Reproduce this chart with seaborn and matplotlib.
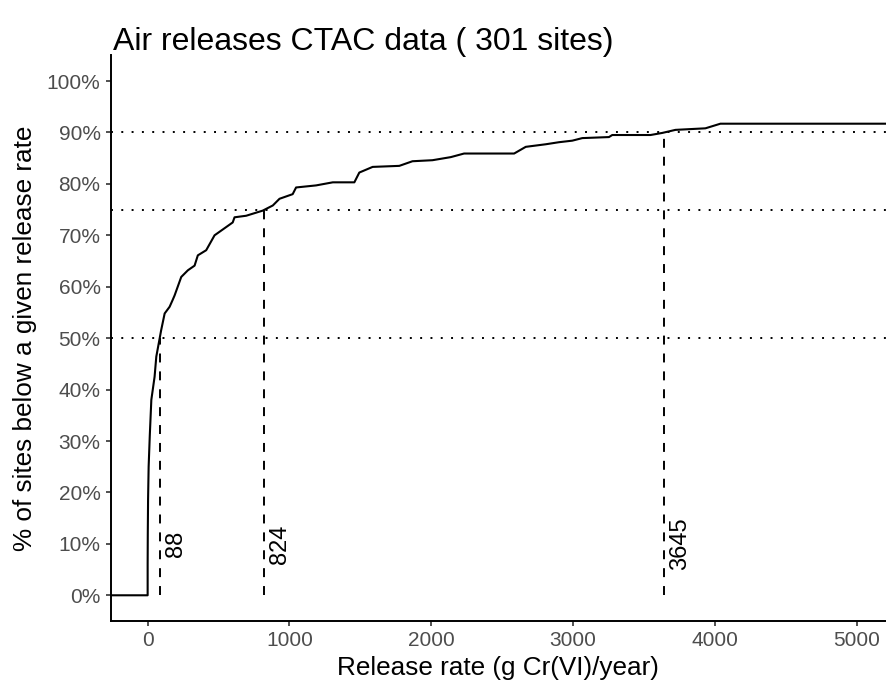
import numpy as np
import pandas as pd
import matplotlib
matplotlib.use("Agg")
import matplotlib.pyplot as plt
import seaborn as sns

# ---- data ----
release_rate = [-1000, 0, 0, 1, 3, 7, 15, 26, 49, 61, 85, 95, 120, 155, 176, 190,
                237, 284, 331, 354, 413, 472, 554, 600, 613, 695, 812, 883, 930,
                1023, 1047, 1188, 1306, 1458, 1493, 1587, 1775, 1868, 2009, 2138,
                2232, 2585, 2667, 2808, 2901, 2995, 3066, 3254, 3277, 3547, 3629,
                3723, 3934, 4040, 6000]
cum_pct = [0, 0, 6, 12, 18.6, 25, 31, 38, 42.5, 46.4, 50, 51.5, 54.8, 56.1, 57.4, 58.3,
           61.9, 63.2, 64.1, 66.1, 67.1, 70, 71.6, 72.5, 73.5, 73.8, 74.8, 75.8, 77.1,
           78, 79.3, 79.7, 80.3, 80.3, 82.2, 83.3, 83.5, 84.4, 84.6, 85.2,
           85.9, 85.9, 87.2, 87.7, 88.1, 88.4, 88.9, 89.1, 89.5, 89.5, 89.9,
           90.5, 90.8, 91.7, 91.7]
quantile_levels = [0.50, 0.75, 0.90]
quantile_values = [88, 824, 3645]
y_ticks = [i / 10 for i in range(11)]
x_ticks = [0, 1000, 2000, 3000, 4000, 5000]
title = "Air releases CTAC data ( 301 sites)"
x_label = "Release rate (g Cr(VI)/year)"
y_label = "% of sites below a given release rate"

df = pd.DataFrame({"rate": release_rate, "frac": np.array(cum_pct) / 100.0})

sns.set_theme(style="ticks")
plt.rcParams["font.family"] = ["Liberation Sans", "DejaVu Sans"]

W, H = 886, 691
fig = plt.figure(figsize=(W / 100, H / 100), dpi=100)
ax = fig.add_axes([110.5 / W, 1 - 621 / H, 1 - 110.5 / W, (621 - 55.3) / H])

lw = 1.4
# horizontal dotted reference lines
for q in quantile_levels:
    ax.axhline(q, color="black", lw=lw, linestyle=(0, (1, 4.3)), zorder=1)
# vertical dashed lines
ax.vlines(quantile_values, 0, quantile_levels, color="black", lw=lw,
          linestyle=(0, (4.6, 4.6)), zorder=1)

sns.lineplot(data=df, x="rate", y="frac", sort=False, estimator=None,
             color="black", lw=1.5, ax=ax, zorder=3)

for v in quantile_values:
    ax.annotate(str(v), xy=(v, 0.10), xytext=(11.5, 0), textcoords="offset points",
                rotation=90, ha="center", va="center", rotation_mode="anchor",
                fontsize=17, color="black")

ax.set_xlim(-262, 5208)
ax.set_ylim(-0.05, 1.05)
ax.set_xticks(x_ticks)
ax.set_yticks(y_ticks)
ax.set_yticklabels([f"{int(round(t * 100))}%" for t in y_ticks])
ax.tick_params(axis="both", length=3.6, width=1.2, color="#333333",
               labelsize=15, labelcolor="#4D4D4D", pad=3.6)
for s in ["top", "right"]:
    ax.spines[s].set_visible(False)
for s in ["left", "bottom"]:
    ax.spines[s].set_linewidth(1.4)
    ax.spines[s].set_color("black")

ax.set_xlabel(x_label, fontsize=18.8, color="black", labelpad=4)
ax.set_ylabel(y_label, fontsize=18.8, color="black", labelpad=7)
fig.text(113 / W, 1 - 50 / H, title, fontsize=23, color="black",
         ha="left", va="baseline")

fig.savefig("out.png", dpi=100)
